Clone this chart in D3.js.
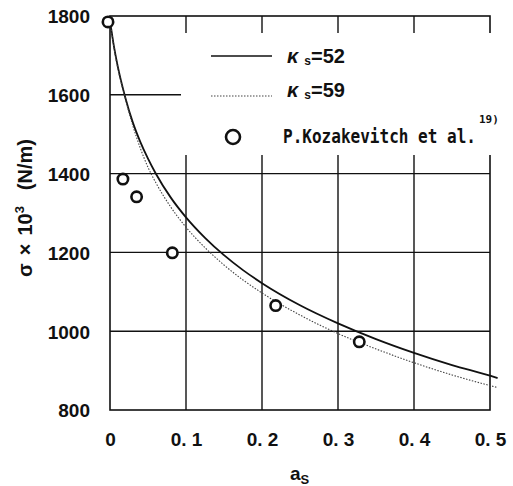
<!DOCTYPE html>
<html>
<head>
<meta charset="utf-8">
<script src="https://cdn.jsdelivr.net/npm/d3@7"></script>
<style>
  html, body { margin: 0; padding: 0; background: #fff; }
  svg { display: block; }
  text { fill: #111; }
</style>
</head>
<body>
<svg id="chart" width="513" height="486"></svg>
<script>
// Activity of surface-active element vs. surface tension
const aGrid   = [0, 0.005, 0.01, 0.02, 0.03, 0.04, 0.05, 0.06, 0.08, 0.1, 0.125, 0.15, 0.175, 0.2, 0.25, 0.3, 0.35, 0.4, 0.45, 0.5, 0.51];
const sigmaK52 = [1788, 1725, 1674, 1594, 1530, 1480, 1438, 1401, 1339, 1289, 1237, 1193, 1155, 1122, 1066, 1020, 980, 945, 914, 887, 881];
const sigmaK59 = [1788, 1722, 1670, 1592, 1522, 1464, 1416, 1378, 1315, 1264, 1212, 1168, 1130, 1097, 1041, 994, 955, 920, 889, 862, 857];

// Measured points (Kozakevitch et al.)
const obsA     = [0, 0.017, 0.035, 0.082, 0.218, 0.328];
const obsSigma = [1785, 1386, 1341, 1199, 1065, 973];

const xTicks = [0, 0.1, 0.2, 0.3, 0.4, 0.5];
const xTickLabels = ["0", "0. 1", "0. 2", "0. 3", "0. 4", "0. 5"];
const yTicks = [800, 1000, 1200, 1400, 1600, 1800];
const yTickLabels = ["800", "1000", "1200", "1400", "1600", "1800"];

const svg = d3.select("#chart");
const x = d3.scaleLinear().domain([0, 0.5]).range([110, 490]);
const y = d3.scaleLinear().domain([800, 1800]).range([410, 16]);

const ink = "#111";
const tickFont = "'Liberation Sans', Arial, sans-serif";

// grid
const grid = svg.append("g").attr("stroke", ink).attr("stroke-width", 1.4).attr("fill", "none");
xTicks.slice(1, -1).forEach(v => {
  grid.append("line").attr("x1", x(v)).attr("x2", x(v)).attr("y1", y(800)).attr("y2", y(1800));
});
yTicks.slice(1, -1).forEach(v => {
  grid.append("line").attr("x1", x(0)).attr("x2", x(0.5)).attr("y1", y(v)).attr("y2", y(v));
});
// frame
grid.append("rect")
  .attr("x", x(0)).attr("y", y(1800))
  .attr("width", x(0.5) - x(0)).attr("height", y(800) - y(1800))
  .attr("stroke-width", 1.6);

// blank area behind the legend
svg.append("rect").attr("x", 181).attr("y", 33).attr("width", 320).attr("height", 122).attr("fill", "#fff");

// y axis labels
const yAxis = d3.axisLeft(y).tickValues(yTicks).tickSize(0).tickPadding(20)
  .tickFormat((d, i) => yTickLabels[i]);
const gy = svg.append("g").attr("transform", `translate(${x(0)},0)`).call(yAxis);
gy.select(".domain").remove();
gy.selectAll("text")
  .style("font-family", tickFont).style("font-size", "19px").style("font-weight", "bold")
  .attr("fill", ink).attr("dy", "0.36em");

// x axis labels
const xAxis = d3.axisBottom(x).tickValues(xTicks).tickSize(0).tickPadding(23)
  .tickFormat((d, i) => xTickLabels[i]);
const gx = svg.append("g").attr("transform", `translate(0,${y(800)})`).call(xAxis);
gx.select(".domain").remove();
gx.selectAll("text")
  .style("font-family", tickFont).style("font-size", "19px").style("font-weight", "bold")
  .attr("fill", ink).attr("dy", "0.71em");

// axis titles
const xt = svg.append("text").attr("x", 290).attr("y", 480)
  .style("font-family", tickFont).style("font-size", "19px").style("font-weight", "bold");
xt.append("tspan").text("a");
xt.append("tspan").attr("dy", 4).style("font-size", "13px").text("S");

const yt = svg.append("text")
  .attr("transform", "translate(32,208) rotate(-90)")
  .attr("text-anchor", "middle")
  .style("font-family", tickFont).style("font-size", "20px").style("font-weight", "bold");
yt.append("tspan").text("σ");
yt.append("tspan").attr("dx", 8).text("×");
yt.append("tspan").attr("dx", 8).text("10");
yt.append("tspan").attr("dy", -8).style("font-size", "13px").text("3");
yt.append("tspan").attr("dy", 8).attr("dx", 16).text("(N/m)");

// model curves
const line = d3.line().x(d => x(d[0])).y(d => y(d[1])).curve(d3.curveMonotoneX);
svg.append("path")
  .datum(aGrid.map((a, i) => [a, sigmaK52[i]]))
  .attr("d", line).attr("fill", "none").attr("stroke", ink).attr("stroke-width", 1.8);
svg.append("path")
  .datum(aGrid.map((a, i) => [a, sigmaK59[i]]))
  .attr("d", line).attr("fill", "none").attr("stroke", "#444").attr("stroke-width", 1.1)
  .attr("stroke-dasharray", "1.5,1.5");

// measured points
svg.append("g").selectAll("circle")
  .data(obsA.map((a, i) => [a, obsSigma[i]]))
  .join("circle")
  .attr("cx", d => x(d[0]) - (d[0] === 0 ? 2 : 0))
  .attr("cy", d => y(d[1]))
  .attr("r", 5.2)
  .attr("fill", "#fff").attr("stroke", ink).attr("stroke-width", 2.6);

// legend
const lg = svg.append("g");
lg.append("line").attr("x1", 211).attr("x2", 272).attr("y1", 56).attr("y2", 56)
  .attr("stroke", ink).attr("stroke-width", 1.4);
lg.append("line").attr("x1", 211).attr("x2", 272).attr("y1", 96).attr("y2", 96)
  .attr("stroke", "#444").attr("stroke-width", 1.1).attr("stroke-dasharray", "1.5,1.5");

const kappaLabels = ["52", "59"];
const kappaY = [63, 97];
kappaLabels.forEach((k, i) => {
  const t = lg.append("text").attr("x", 287).attr("y", kappaY[i])
    .style("font-family", tickFont).style("font-size", "20px").style("font-weight", "bold");
  t.append("tspan").style("font-style", "italic").text("κ");
  t.append("tspan").attr("dx", 6).attr("dy", 2).style("font-size", "12px").text("s");
  t.append("tspan").attr("dy", -2).text("=" + k);
});

lg.append("circle").attr("cx", 233).attr("cy", 137).attr("r", 7)
  .attr("fill", "#fff").attr("stroke", ink).attr("stroke-width", 2.6);
lg.append("text").attr("x", 283).attr("y", 143)
  .attr("textLength", 193).attr("lengthAdjust", "spacingAndGlyphs")
  .style("font-family", "'DejaVu Sans Mono', monospace").style("font-size", "19px").style("font-weight", "bold")
  .text("P.Kozakevitch et al.");
lg.append("text").attr("x", 479).attr("y", 123)
  .style("font-family", "'DejaVu Sans Mono', monospace").style("font-size", "11px").style("font-weight", "bold")
  .text("19)");
</script>
</body>
</html>
